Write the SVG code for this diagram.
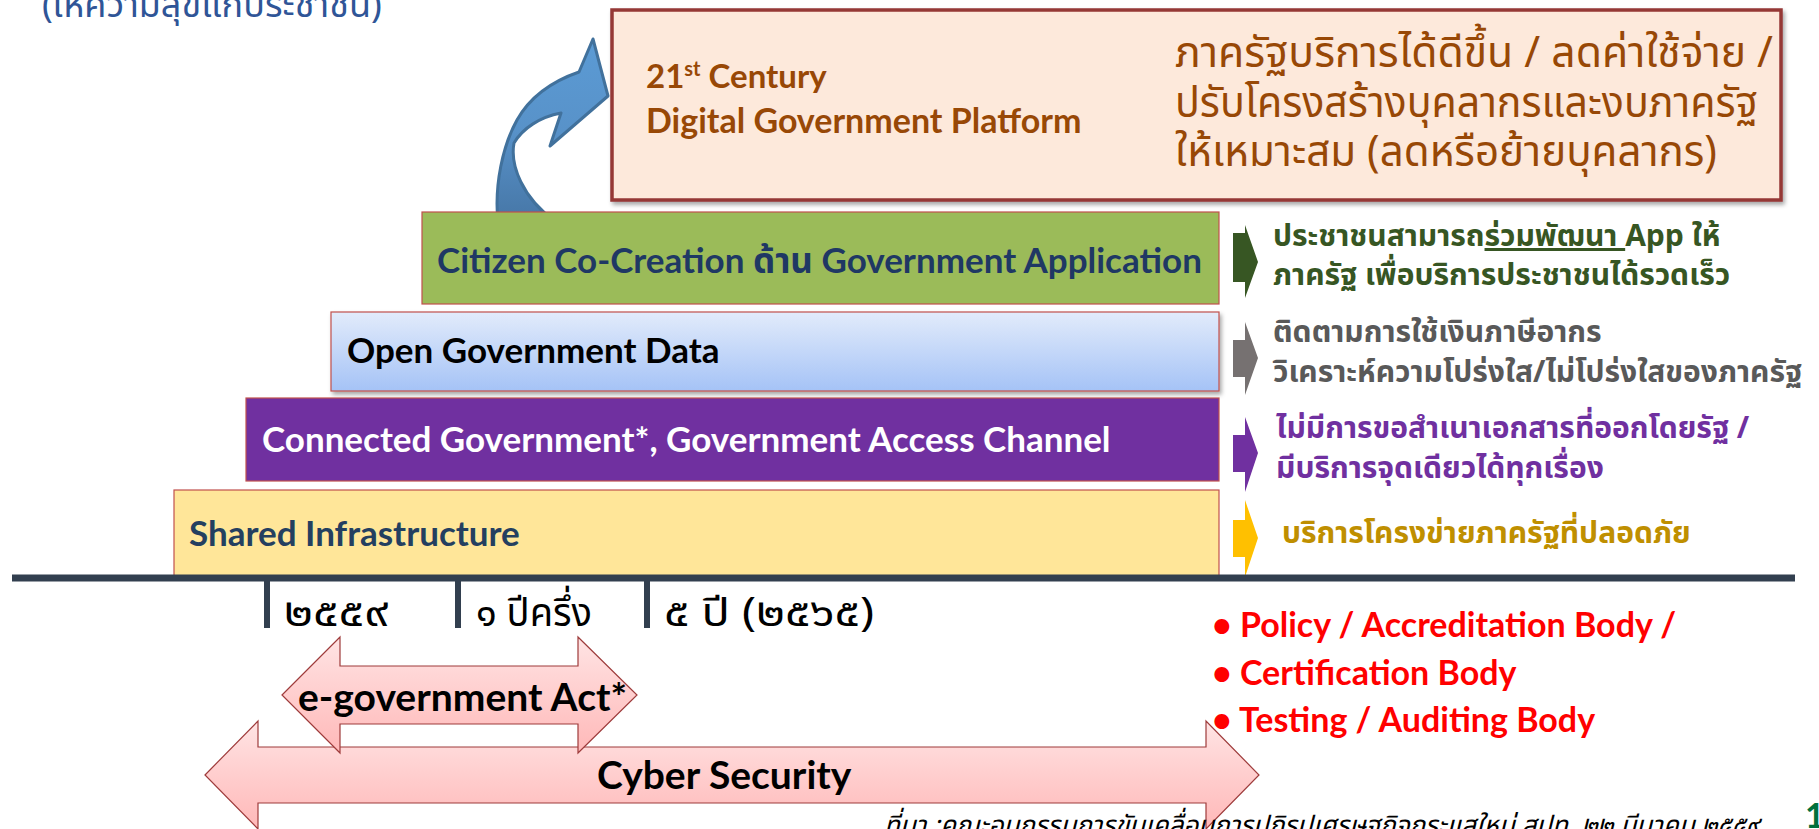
<svg xmlns="http://www.w3.org/2000/svg" width="1819" height="829" viewBox="0 0 1819 829">
<defs>
  <linearGradient id="gBlue" x1="0" y1="0" x2="0" y2="1">
    <stop offset="0" stop-color="#e2ebfb"/>
    <stop offset="1" stop-color="#a5c3f6"/>
  </linearGradient>
  <linearGradient id="gPink" x1="0" y1="0" x2="0" y2="1">
    <stop offset="0" stop-color="#ffe4e4"/>
    <stop offset="1" stop-color="#ffb8b8"/>
  </linearGradient>
  <linearGradient id="gCurve" x1="0" y1="0" x2="0" y2="1">
    <stop offset="0" stop-color="#5b9bd5"/>
    <stop offset="0.5" stop-color="#5892c9"/>
    <stop offset="1" stop-color="#4676a6"/>
  </linearGradient>
  <filter id="shadow" x="-5%" y="-10%" width="110%" height="130%">
    <feDropShadow dx="2" dy="3" stdDeviation="2" flood-color="#000" flood-opacity="0.35"/>
  </filter>
</defs>
<style>
  .lat { font-family: Lato, "Open Sans", "Liberation Sans", sans-serif; font-weight: 700; }
  .th { font-family: "Noto Sans Thai", "Noto Sans", "DejaVu Sans", sans-serif; }
  .thb { font-family: "Noto Sans Thai", "Noto Sans", "DejaVu Sans", sans-serif; font-weight: 700; }
  .layer { stroke: #c0504d; stroke-width: 1.2; }
  .big { fill: url(#gPink); stroke: #9e3b3b; stroke-width: 1.2; }
  .tick { stroke: #323f4f; stroke-width: 6; }
  .red { fill: #ff0000; font-size: 34px; }
  .note { font-size: 30px; }
  .plat { font-size: 43px; fill: #984806; }
  .lbl { font-size: 35px; }
  .yr { font-size: 40px; fill: #000; }
</style>

<g id="title">
  <text x="42" y="17" class="th" font-size="36" fill="#2f5597">(ให้ความสุขแก่ประชาชน)</text>
</g>

<g id="connectors">
  <path id="curved-arrow" d="M498,222 C494,185 503,145 517,120 C530,97 550,82 579,72 L593,39 L608,96 L550,146 L561,113 C540,117 523,128 514,143 C510,165 522,198 556,222 Z" fill="url(#gCurve)" stroke="#41719c" stroke-width="3" stroke-linejoin="round"/>
  <path id="arr-green" d="M1233,233 L1245,233 L1245,225 L1258,262 L1245,298 L1245,282 L1233,282 Z" fill="#375623"/>
  <path id="arr-gray" d="M1233,340 L1245,340 L1245,322 L1258,358 L1245,395 L1245,377 L1233,377 Z" fill="#767171"/>
  <path id="arr-purple" d="M1233,435 L1245,435 L1245,417 L1258,453 L1245,492 L1245,472 L1233,472 Z" fill="#7030a0"/>
  <path id="arr-yellow" d="M1233,520 L1245,520 L1245,500 L1258,538 L1245,577 L1245,557 L1233,557 Z" fill="#ffc000"/>
</g>

<g id="platform">
  <rect x="612" y="10" width="1169" height="190" fill="#fde9db" stroke="#953735" stroke-width="3.5" filter="url(#shadow)"/>
  <text x="646" y="88" class="lat" font-size="33" fill="#984806">21<tspan font-size="20" dy="-12">st</tspan><tspan dy="12"> Century</tspan></text>
  <text x="646" y="133" class="lat" font-size="34" fill="#984806">Digital Government Platform</text>
  <text x="1175" y="67" class="th plat" textLength="598" lengthAdjust="spacingAndGlyphs">ภาครัฐบริการได้ดีขึ้น / ลดค่าใช้จ่าย /</text>
  <text x="1175" y="117" class="th plat" textLength="583" lengthAdjust="spacingAndGlyphs">ปรับโครงสร้างบุคลากรและงบภาครัฐ</text>
  <text x="1175" y="166" class="th plat" textLength="542" lengthAdjust="spacingAndGlyphs">ให้เหมาะสม (ลดหรือย้ายบุคลากร)</text>
</g>

<g id="citizen">
  <rect x="422" y="212" width="797" height="92" fill="#9bbb59" class="layer"/>
  <text x="437" y="273" class="lat lbl" fill="#1f3864">Citizen Co-Creation <tspan class="thb">ด้าน</tspan> Government Application</text>
</g>

<g id="opendata">
  <rect x="331" y="312" width="888" height="79" fill="url(#gBlue)" class="layer" filter="url(#shadow)"/>
  <text x="347" y="363" class="lat lbl" fill="#000">Open Government Data</text>
</g>

<g id="connected">
  <rect x="246" y="398" width="973" height="83" fill="#7030a0" class="layer"/>
  <text x="262" y="452" class="lat lbl" fill="#fff">Connected Government*, Government Access Channel</text>
</g>

<g id="shared">
  <rect x="174" y="490" width="1045" height="86" fill="#ffe699" class="layer"/>
  <text x="189" y="546" class="lat lbl" fill="#243f60">Shared Infrastructure</text>
</g>

<g id="notes">
  <text class="thb note" fill="#375623">
    <tspan x="1273" y="246">ประชาชนสามารถ<tspan text-decoration="underline">ร่วมพัฒนา </tspan>App ให้</tspan>
    <tspan x="1273" y="285">ภาครัฐ เพื่อบริการประชาชนได้รวดเร็ว</tspan>
  </text>
  <text class="thb note" fill="#595959">
    <tspan x="1273" y="342">ติดตามการใช้เงินภาษีอากร</tspan>
    <tspan x="1273" y="382">วิเคราะห์ความโปร่งใส/ไม่โปร่งใสของภาครัฐ</tspan>
  </text>
  <text class="thb note" fill="#7030a0">
    <tspan x="1276" y="438">ไม่มีการขอสำเนาเอกสารที่ออกโดยรัฐ /</tspan>
    <tspan x="1276" y="478">มีบริการจุดเดียวได้ทุกเรื่อง</tspan>
  </text>
  <text x="1282" y="543" class="thb note" fill="#bf8f00">บริการโครงข่ายภาครัฐที่ปลอดภัย</text>
</g>

<g id="timeline">
  <line x1="12" y1="578" x2="1795" y2="578" stroke="#323f4f" stroke-width="7"/>
  <line class="tick" x1="267" y1="578" x2="267" y2="628"/>
  <line class="tick" x1="458" y1="578" x2="458" y2="628"/>
  <line class="tick" x1="647" y1="578" x2="647" y2="628"/>
  <text x="284" y="626" class="th yr" textLength="104" lengthAdjust="spacingAndGlyphs">๒๕๕๙</text>
  <text x="476" y="626" class="th yr" textLength="116" lengthAdjust="spacingAndGlyphs">๑ ปีครึ่ง</text>
  <text x="664" y="626" class="th yr" textLength="210" lengthAdjust="spacingAndGlyphs">๕ ปี (๒๕๖๕)</text>
</g>

<g id="cyber">
  <path class="big" d="M205,775 L258,721 L258,747 L1206,747 L1206,721 L1259,775 L1206,829 L1206,803 L258,803 L258,829 Z"/>
  <text x="597" y="789" class="lat" font-size="39" fill="#000">Cyber Security</text>
</g>

<g id="egov">
  <path class="big" d="M282,695 L340,637 L340,666 L578,666 L578,637 L637,695 L578,753 L578,724 L340,724 L340,753 Z"/>
  <text x="298" y="711" class="lat" font-size="39" fill="#000">e-government Act*</text>
</g>

<g id="bodies">
  <text x="1212" y="637" class="lat red">• Policy / Accreditation Body /</text>
  <text x="1212" y="685" class="lat red">• Certification Body</text>
  <text x="1212" y="732" class="lat red">• Testing / Auditing Body</text>
</g>

<g id="footer">
  <text x="884" y="834" class="th" font-size="26" font-style="italic" fill="#000">ที่มา :คณะอนุกรรมการขับเคลื่อนการปฏิรูปเศรษฐกิจกระแสใหม่ สปท.    ๒๒ มีนาคม ๒๕๕๙</text>
  <text x="1805" y="828" class="lat" font-size="34" fill="#00703c">1</text>
</g>
</svg>
